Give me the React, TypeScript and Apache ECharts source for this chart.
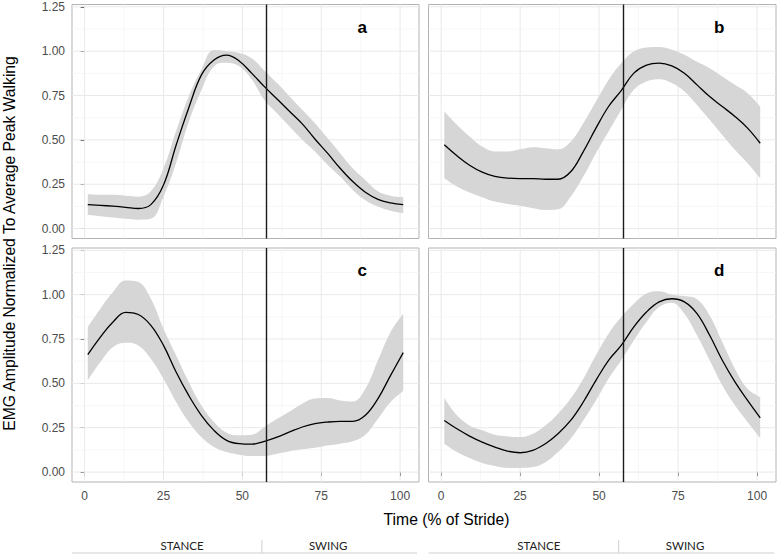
import React, { useEffect, useRef } from 'react';
import * as echarts from 'echarts';

// Time (% of stride) sample positions
const X = [1, 5, 9, 13, 17, 21, 25, 29, 33, 37, 41, 45, 49, 53, 57, 61, 65, 69, 73, 77, 81, 85, 89, 93, 97, 101];

const A_MEAN = [0.135, 0.131, 0.126, 0.12, 0.113, 0.135, 0.245, 0.47, 0.68, 0.865, 0.95, 0.978, 0.945, 0.875, 0.8, 0.73, 0.66, 0.59, 0.505, 0.425, 0.34, 0.265, 0.205, 0.165, 0.145, 0.135];
const A_LOW = [0.077, 0.07, 0.062, 0.055, 0.05, 0.055, 0.18, 0.37, 0.6, 0.78, 0.915, 0.935, 0.915, 0.84, 0.725, 0.65, 0.575, 0.5, 0.434, 0.36, 0.293, 0.218, 0.16, 0.124, 0.1, 0.086];
const A_UP = [0.195, 0.19, 0.19, 0.185, 0.18, 0.21, 0.34, 0.55, 0.745, 0.895, 1.006, 1.0, 0.99, 0.96, 0.89, 0.82, 0.745, 0.67, 0.594, 0.51, 0.425, 0.34, 0.274, 0.21, 0.185, 0.177];

const B_MEAN = [0.472, 0.41, 0.357, 0.318, 0.294, 0.284, 0.282, 0.282, 0.278, 0.278, 0.32, 0.434, 0.566, 0.688, 0.778, 0.876, 0.921, 0.932, 0.917, 0.876, 0.81, 0.744, 0.688, 0.632, 0.566, 0.481];
const B_LOW = [0.284, 0.237, 0.203, 0.177, 0.152, 0.139, 0.128, 0.115, 0.105, 0.109, 0.18, 0.293, 0.425, 0.547, 0.669, 0.782, 0.829, 0.842, 0.82, 0.773, 0.697, 0.613, 0.528, 0.444, 0.368, 0.284];
const B_UP = [0.66, 0.585, 0.519, 0.462, 0.434, 0.434, 0.447, 0.459, 0.453, 0.447, 0.49, 0.594, 0.716, 0.838, 0.932, 0.998, 1.02, 1.023, 1.008, 0.98, 0.94, 0.904, 0.857, 0.81, 0.763, 0.688];

const C_MEAN = [0.662, 0.761, 0.846, 0.9, 0.888, 0.827, 0.714, 0.564, 0.432, 0.32, 0.235, 0.179, 0.16, 0.157, 0.173, 0.197, 0.226, 0.254, 0.273, 0.282, 0.286, 0.286, 0.32, 0.414, 0.545, 0.673];
const C_LOW = [0.517, 0.62, 0.705, 0.729, 0.714, 0.639, 0.526, 0.395, 0.282, 0.197, 0.141, 0.113, 0.098, 0.09, 0.09, 0.103, 0.117, 0.128, 0.137, 0.15, 0.16, 0.173, 0.21, 0.3, 0.395, 0.457];
const C_UP = [0.818, 0.921, 1.015, 1.08, 1.072, 0.977, 0.808, 0.658, 0.508, 0.376, 0.282, 0.222, 0.207, 0.21, 0.254, 0.3, 0.342, 0.385, 0.414, 0.417, 0.404, 0.398, 0.47, 0.63, 0.79, 0.893];

const D_MEAN = [0.291, 0.244, 0.203, 0.169, 0.141, 0.118, 0.109, 0.122, 0.16, 0.216, 0.291, 0.395, 0.517, 0.63, 0.714, 0.818, 0.902, 0.959, 0.977, 0.959, 0.893, 0.771, 0.63, 0.508, 0.404, 0.306];
const D_LOW = [0.16, 0.113, 0.079, 0.051, 0.034, 0.023, 0.023, 0.028, 0.056, 0.113, 0.188, 0.291, 0.404, 0.526, 0.63, 0.742, 0.846, 0.93, 0.955, 0.893, 0.771, 0.63, 0.489, 0.376, 0.282, 0.192];
const D_UP = [0.417, 0.32, 0.263, 0.235, 0.21, 0.201, 0.197, 0.216, 0.263, 0.329, 0.414, 0.526, 0.658, 0.78, 0.874, 0.949, 1.006, 1.019, 1.0, 0.992, 0.974, 0.883, 0.733, 0.583, 0.47, 0.423];

const PANEL_LABELS = ['a', 'b', 'c', 'd'];
const X_MAJOR = [0, 25, 50, 75, 100];
const X_MINOR = [12.5, 37.5, 62.5, 87.5];
const Y_MAJOR = [0, 0.25, 0.5, 0.75, 1.0, 1.25];
const Y_MINOR = [0.125, 0.375, 0.625, 0.875, 1.125];
const TOE_OFF = 57.5;
const STRIP_SPLIT = 56.2;
const PHASES = ['STANCE', 'SWING'];
const PHASE_CENTERS = [30.9, 77.2];
const Y_TITLE = 'EMG Amplitude Normalized To Average Peak Walking';
const X_TITLE = 'Time (% of Stride)';

const X_MIN = -4;
const X_MAX = 106;
const Y_MIN = -0.056;
const Y_MAX = 1.263;

const GRIDS = [
  { left: 72, top: 4.5, width: 347, height: 234 },
  { left: 428.5, top: 4.5, width: 347.5, height: 234 },
  { left: 72, top: 248, width: 347, height: 234 },
  { left: 428.5, top: 248, width: 347.5, height: 234 },
];

const FONT = '"Liberation Sans", Arial, Helvetica, sans-serif';

function px(g: number, x: number) {
  const G = GRIDS[g];
  return G.left + ((x - X_MIN) / (X_MAX - X_MIN)) * G.width;
}
function py(g: number, y: number) {
  const G = GRIDS[g];
  return G.top + ((Y_MAX - y) / (Y_MAX - Y_MIN)) * G.height;
}

export default function App() {
  const ref = useRef<HTMLDivElement>(null);
  useEffect(() => {
    if (!ref.current) return;
    const chart = echarts.init(ref.current, undefined, { renderer: 'svg' });
    const panels = [
      { mean: A_MEAN, low: A_LOW, up: A_UP },
      { mean: B_MEAN, low: B_LOW, up: B_UP },
      { mean: C_MEAN, low: C_LOW, up: C_UP },
      { mean: D_MEAN, low: D_LOW, up: D_UP },
    ];
    const gridLineData: number[][] = [
      ...X_MAJOR.map((v) => [v, 0, 0]),
      ...X_MINOR.map((v) => [v, 1, 0]),
      ...Y_MAJOR.map((v) => [v, 0, 1]),
      ...Y_MINOR.map((v) => [v, 1, 1]),
    ];

    const grid = GRIDS.map((g) => ({
      left: g.left,
      top: g.top,
      width: g.width,
      height: g.height,
      show: true,
      borderColor: '#b3b3b3',
      borderWidth: 1,
      backgroundColor: '#ffffff',
      containLabel: false,
    }));

    const xAxis = GRIDS.map((_, i) => {
      const bottom = i >= 2;
      return {
        type: 'value',
        gridIndex: i,
        min: X_MIN,
        max: X_MAX,
        axisLine: { show: false },
        splitLine: { show: false },
        axisTick: {
          show: bottom,
          customValues: X_MAJOR,
          length: 4,
          lineStyle: { color: '#333333', width: 1 },
        },
        axisLabel: {
          show: bottom,
          customValues: X_MAJOR,
          color: '#4d4d4d',
          fontSize: 12,
          fontFamily: FONT,
          margin: 8,
        },
      };
    });

    const yAxis = GRIDS.map((_, i) => {
      const left = i % 2 === 0;
      return {
        type: 'value',
        gridIndex: i,
        min: Y_MIN,
        max: Y_MAX,
        axisLine: { show: false },
        splitLine: { show: false },
        axisTick: {
          show: left,
          customValues: Y_MAJOR,
          length: 4,
          lineStyle: { color: '#333333', width: 1 },
        },
        axisLabel: {
          show: left,
          customValues: Y_MAJOR,
          color: '#4d4d4d',
          fontSize: 12,
          fontFamily: FONT,
          margin: 7,
          formatter: (v: number) => v.toFixed(2),
        },
      };
    });

    const series: any[] = [];
    panels.forEach((p, i) => {
      series.push({
        type: 'custom',
        xAxisIndex: i,
        yAxisIndex: i,
        z: 1,
        silent: true,
        data: gridLineData,
        renderItem: (params: any, api: any) => {
          const v = api.value(0);
          const minor = api.value(1);
          const horiz = api.value(2);
          const cs = params.coordSys;
          const style = { stroke: minor ? '#f3f3f3' : '#e9e9e9', lineWidth: minor ? 0.7 : 1 };
          if (horiz) {
            const pt = api.coord([0, v]);
            return { type: 'line', shape: { x1: cs.x, y1: pt[1], x2: cs.x + cs.width, y2: pt[1] }, style };
          }
          const pt = api.coord([v, 0]);
          return { type: 'line', shape: { x1: pt[0], y1: cs.y, x2: pt[0], y2: cs.y + cs.height }, style };
        },
      });
      // band: value column first so stacking happens on y
      series.push({
        type: 'line',
        xAxisIndex: i,
        yAxisIndex: i,
        stack: 'band' + i,
        encode: { x: 1, y: 0 },
        data: X.map((x, j) => [p.low[j], x]),
        symbol: 'none',
        smooth: 0.4,
        silent: true,
        lineStyle: { opacity: 0 },
        z: 2,
      });
      series.push({
        type: 'line',
        xAxisIndex: i,
        yAxisIndex: i,
        stack: 'band' + i,
        encode: { x: 1, y: 0 },
        data: X.map((x, j) => [+(p.up[j] - p.low[j]).toFixed(4), x]),
        symbol: 'none',
        smooth: 0.4,
        silent: true,
        lineStyle: { opacity: 0 },
        areaStyle: { color: '#d6d6d6', opacity: 1 },
        z: 2,
      });
      series.push({
        type: 'line',
        xAxisIndex: i,
        yAxisIndex: i,
        data: X.map((x, j) => [x, p.mean[j]]),
        symbol: 'none',
        smooth: 0.4,
        silent: true,
        lineStyle: { color: '#000000', width: 1.3 },
        z: 3,
        markLine: {
          silent: true,
          symbol: ['none', 'none'],
          label: { show: false },
          lineStyle: { color: '#1a1a1a', width: 1.4, type: 'solid' },
          data: [{ xAxis: TOE_OFF }],
        },
      });
    });

    const textStyle = (text: string, font: string, fill: string) => ({
      text,
      font,
      fill,
      align: 'center',
      verticalAlign: 'middle',
      textAlign: 'center',
      textVerticalAlign: 'middle',
    });

    const graphic: any[] = [];
    GRIDS.forEach((_, i) => {
      graphic.push({
        type: 'text',
        z: 50,
        x: px(i, 88),
        y: py(i, 1.135),
        style: textStyle(PANEL_LABELS[i], 'bold 17px ' + FONT, '#000000'),
      });
    });
    graphic.push({
      type: 'text',
      z: 50,
      x: 9,
      y: 243.5,
      rotation: Math.PI / 2,
      style: textStyle(Y_TITLE, '15.7px ' + FONT, '#000000'),
    });
    graphic.push({
      type: 'text',
      z: 50,
      x: 446.5,
      y: 519,
      style: textStyle(X_TITLE, '15.7px ' + FONT, '#000000'),
    });
    [2, 3].forEach((g) => {
      const G = GRIDS[g];
      graphic.push({
        type: 'line',
        z: 50,
        shape: { x1: G.left, y1: 553, x2: G.left + G.width - 2, y2: 553 },
        style: { stroke: '#cfcfcf', lineWidth: 1 },
      });
      graphic.push({
        type: 'line',
        z: 50,
        shape: { x1: px(g, STRIP_SPLIT), y1: 540, x2: px(g, STRIP_SPLIT), y2: 553 },
        style: { stroke: '#cfcfcf', lineWidth: 1 },
      });
      PHASES.forEach((ph, k) => {
        graphic.push({
          type: 'text',
          z: 50,
          x: px(g, PHASE_CENTERS[k]),
          y: 545.5,
          style: textStyle(ph, '11.5px Lato, "Open Sans", sans-serif', '#222222'),
        });
      });
    });

    chart.setOption({
      animation: false,
      backgroundColor: '#ffffff',
      textStyle: { fontFamily: FONT },
      grid,
      xAxis,
      yAxis,
      series,
      graphic,
    });
    return () => chart.dispose();
  }, []);
  return <div ref={ref} style={{ position: 'absolute', left: 0, top: 0, width: 778, height: 555 }} />;
}
